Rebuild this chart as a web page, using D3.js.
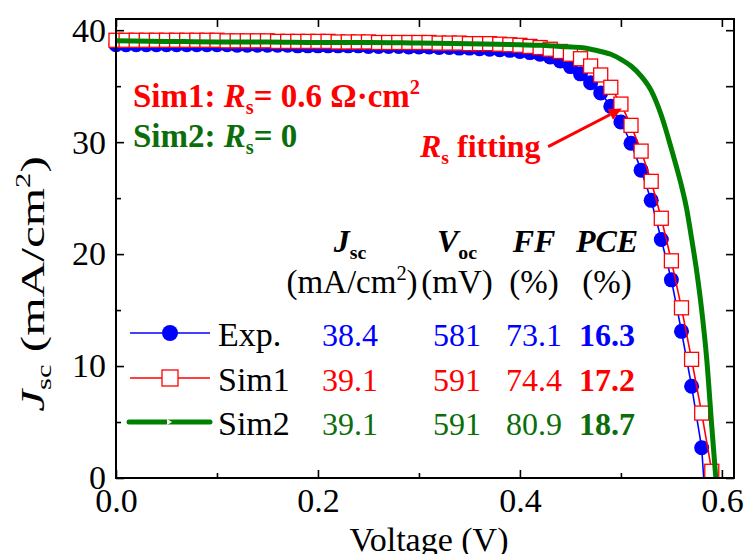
<!DOCTYPE html>
<html lang="en">
<head>
<meta charset="utf-8">
<title>J-V curves</title>
<script src="https://cdn.jsdelivr.net/npm/d3@7/dist/d3.min.js"></script>
<style>
  body { margin: 0; background: #fff; }
  svg text { font-family: "Liberation Serif", "Times New Roman", serif; }
  .axis path { display: none; }
  .axis line { stroke: #000; stroke-width: 1.6; }
  .axis text { font-size: 34px; fill: #000; }
</style>
</head>
<body>
<script>
// measured J-V points (V in volts, J in mA/cm2)
var expV = [0.00,0.01,0.02,0.03,0.04,0.05,0.06,0.07,0.08,0.09,
            0.10,0.11,0.12,0.13,0.14,0.15,0.16,0.17,0.18,0.19,
            0.20,0.21,0.22,0.23,0.24,0.25,0.26,0.27,0.28,0.29,
            0.30,0.31,0.32,0.33,0.34,0.35,0.36,0.37,0.38,0.39,
            0.40,0.41,0.42,0.43,0.44,0.45,0.46,0.47,0.48,0.49,
            0.50,0.51,0.52,0.53,0.54,0.55,0.56,0.57,0.58];
var expJ = [38.7,38.7,38.7,38.7,38.7,38.7,38.7,38.7,38.7,38.7,
            38.7,38.7,38.65,38.65,38.65,38.65,38.65,38.65,38.6,38.6,
            38.6,38.6,38.6,38.6,38.6,38.55,38.55,38.55,38.55,38.5,
            38.5,38.5,38.45,38.45,38.4,38.4,38.35,38.3,38.25,38.2,
            38.1,38.0,37.85,37.6,37.25,36.75,36.1,35.3,34.4,33.2,
            31.8,29.9,27.5,24.8,21.3,17.7,13.1,8.2,2.7];
var expVoc = 0.582;

var sim1V = [0.00,0.01,0.02,0.03,0.04,0.05,0.06,0.07,0.08,0.09,
             0.10,0.11,0.12,0.13,0.14,0.15,0.16,0.17,0.18,0.19,
             0.20,0.21,0.22,0.23,0.24,0.25,0.26,0.27,0.28,0.29,
             0.30,0.31,0.32,0.33,0.34,0.35,0.36,0.37,0.38,0.39,
             0.40,0.41,0.42,0.43,0.44,0.45,0.46,0.47,0.48,0.49,
             0.50,0.51,0.52,0.53,0.54,0.55,0.56,0.57,0.58,0.59];
var sim1J = [39.1,39.1,39.1,39.1,39.1,39.1,39.1,39.1,39.1,39.1,
             39.1,39.05,39.05,39.05,39.05,39.05,39.0,39.0,39.0,39.0,
             39.0,39.0,38.95,38.95,38.95,38.95,38.9,38.9,38.9,38.9,
             38.9,38.9,38.85,38.85,38.85,38.8,38.8,38.8,38.75,38.7,
             38.65,38.55,38.45,38.3,38.1,37.85,37.45,36.8,36.0,34.9,
             33.4,31.5,29.2,26.5,23.2,19.4,15.2,10.6,5.8,0.6];
var sim1Voc = 0.5915;

var sim2V = [0.00,0.05,0.10,0.15,0.20,0.25,0.30,0.35,0.40,0.42,0.44,0.46,0.47,0.48,0.49,
             0.50,0.51,0.52,0.53,0.54,0.55,0.555,0.56,0.565,0.57,0.575,0.58,0.585,0.59,0.594];
var sim2J = [39.05,39.0,38.95,38.95,38.9,38.9,38.85,38.8,38.7,38.65,38.55,38.45,38.3,38.1,37.85,
             37.4,36.8,35.9,34.6,32.4,29.4,27.8,26.1,24.1,21.4,18.5,15.0,10.6,4.6,0];

// table
var rowNames = ["Exp.", "Sim1", "Sim2"];
var jscVals = ["38.4", "39.1", "39.1"];
var vocVals = ["581", "591", "591"];
var ffVals = ["73.1", "74.4", "80.9"];
var pceVals = ["16.3", "17.2", "18.7"];

var xMajor = [0.0, 0.2, 0.4, 0.6];
var xMinor = [0.1, 0.3, 0.5];
var yMajor = [0, 10, 20, 30, 40];
var yMinor = [5, 15, 25, 35];

var blue = "#0000ff", red = "#ff0000", green = "#008000", greenText = "#0b6e0b";
var rowColors = [blue, red, greenText];

var width = 748, height = 554;
var mL = 116, mR = 734, mT = 19, mB = 478;

var x = d3.scaleLinear().domain([0, 0.612]).range([mL, mR]);
var y = d3.scaleLinear().domain([0, 41]).range([mB, mT]);

var svg = d3.select("body").append("svg")
  .attr("width", width)
  .attr("height", height);

function richText(sel, px, py, parts, size, fill, weight) {
  var t = sel.append("text")
    .attr("x", px).attr("y", py)
    .style("font-size", size + "px")
    .attr("fill", fill)
    .attr("font-weight", weight || "normal");
  var shift = 0;
  parts.forEach(function(p) {
    var ts = t.append("tspan").text(p.t);
    var target = 0;
    if (p.sub) { ts.style("font-size", (size * 0.62) + "px"); target = size * 0.22; }
    if (p.sup) { ts.style("font-size", (size * 0.62) + "px"); target = -size * 0.4; }
    if (target - shift !== 0) ts.attr("dy", target - shift);
    shift = target;
    if (p.i) ts.style("font-style", "italic");
    if (p.w) ts.attr("font-weight", p.w);
  });
  return t;
}

// axes (ticks pointing inward)
svg.append("g").attr("class", "axis")
  .attr("transform", "translate(0," + mB + ")")
  .call(d3.axisBottom(x).tickValues(xMajor).tickSize(-8).tickPadding(10).tickFormat(d3.format(".1f")));
svg.append("g").attr("class", "axis")
  .attr("transform", "translate(0," + mB + ")")
  .call(d3.axisBottom(x).tickValues(xMinor).tickSize(-5).tickFormat(""));
svg.append("g").attr("class", "axis")
  .attr("transform", "translate(0," + mT + ")")
  .call(d3.axisTop(x).tickValues(xMajor.concat(xMinor)).tickSize(-8).tickFormat(""));
svg.append("g").attr("class", "axis")
  .attr("transform", "translate(" + mL + ",0)")
  .call(d3.axisLeft(y).tickValues(yMajor).tickSize(-8).tickPadding(10));
svg.append("g").attr("class", "axis")
  .attr("transform", "translate(" + mL + ",0)")
  .call(d3.axisLeft(y).tickValues(yMinor).tickSize(-5).tickFormat(""));
svg.append("g").attr("class", "axis")
  .attr("transform", "translate(" + mR + ",0)")
  .call(d3.axisRight(y).tickValues(yMajor.concat(yMinor)).tickSize(-8).tickFormat(""));

// curves
var expPts = expV.map(function(v, i) { return [v, expJ[i]]; });
var sim1Pts = sim1V.map(function(v, i) { return [v, sim1J[i]]; });
var sim2Pts = sim2V.map(function(v, i) { return [v, sim2J[i]]; });

var line = d3.line().x(function(d) { return x(d[0]); }).y(function(d) { return y(d[1]); });

svg.append("path")
  .attr("d", line(expPts.concat([[expVoc, 0]])))
  .attr("fill", "none").attr("stroke", blue).attr("stroke-width", 1.6);
svg.selectAll(".expPt").data(expPts).enter().append("circle")
  .attr("class", "expPt")
  .attr("cx", function(d) { return x(d[0]); })
  .attr("cy", function(d) { return y(d[1]); })
  .attr("r", 7.5)
  .attr("fill", blue);

svg.append("path")
  .attr("d", line(sim1Pts.concat([[sim1Voc, 0]])))
  .attr("fill", "none").attr("stroke", red).attr("stroke-width", 1.6);
svg.selectAll(".simPt").data(sim1Pts).enter().append("rect")
  .attr("class", "simPt")
  .attr("x", function(d) { return x(d[0]) - 7; })
  .attr("y", function(d) { return y(d[1]) - 7; })
  .attr("width", 14).attr("height", 14)
  .attr("fill", "#fff").attr("stroke", red).attr("stroke-width", 1.3);

svg.append("path")
  .attr("d", line.curve(d3.curveMonotoneX)(sim2Pts))
  .attr("fill", "none").attr("stroke", green).attr("stroke-width", 5);

// frame
svg.append("rect")
  .attr("x", mL).attr("y", mT)
  .attr("width", mR - mL).attr("height", mB - mT)
  .attr("fill", "none").attr("stroke", "#000").attr("stroke-width", 2);

// axis titles
svg.append("text")
  .attr("x", (mL + mR) / 2 + 4).attr("y", 551)
  .attr("text-anchor", "middle")
  .style("font-size", "34px")
  .text("Voltage (V)");

var yl = svg.append("g").attr("transform", "translate(44,284) rotate(-90) scale(1.45,1)");
richText(yl, 0, 0, [{t: "J", i: true}, {t: "sc", sub: true}, {t: " (mA/cm"}, {t: "2", sup: true}, {t: ")"}], 34, "#000")
  .attr("text-anchor", "middle");

// annotations
richText(svg, 133, 107, [{t: "Sim1: "}, {t: "R", i: true}, {t: "s", sub: true}, {t: "= 0.6 \u03A9\u00B7cm"}, {t: "2", sup: true}], 33, red, "bold");
richText(svg, 133, 147, [{t: "Sim2: "}, {t: "R", i: true}, {t: "s", sub: true}, {t: "= 0"}], 33, greenText, "bold");
richText(svg, 420, 157, [{t: "R", i: true}, {t: "s", sub: true}, {t: " fitting"}], 32, red, "bold");

var tail = [x(0.428), y(29.6)], tip = [x(0.501), y(33.0)];
var ang = Math.atan2(tip[1] - tail[1], tip[0] - tail[0]);
var back = [tip[0] - 13 * Math.cos(ang), tip[1] - 13 * Math.sin(ang)];
svg.append("line")
  .attr("x1", tail[0]).attr("y1", tail[1])
  .attr("x2", back[0]).attr("y2", back[1])
  .attr("stroke", red).attr("stroke-width", 3);
svg.append("path")
  .attr("d", "M" + tip[0] + "," + tip[1] +
    "L" + (back[0] + 6 * Math.sin(ang)) + "," + (back[1] - 6 * Math.cos(ang)) +
    "L" + (back[0] - 6 * Math.sin(ang)) + "," + (back[1] + 6 * Math.cos(ang)) + "Z")
  .attr("fill", red);

// table headers
var colX = [350, 457, 534, 607];
var hdr = svg.append("g");
richText(hdr, colX[0], 252, [{t: "J", i: true}, {t: "sc", sub: true}], 32, "#000", "bold").attr("text-anchor", "middle");
richText(hdr, colX[1], 252, [{t: "V", i: true}, {t: "oc", sub: true}], 32, "#000", "bold").attr("text-anchor", "middle");
richText(hdr, colX[2], 252, [{t: "FF", i: true}], 32, "#000", "bold").attr("text-anchor", "middle");
richText(hdr, colX[3], 252, [{t: "PCE", i: true}], 32, "#000", "bold").attr("text-anchor", "middle");
richText(hdr, 352, 293, [{t: "(mA/cm"}, {t: "2", sup: true}, {t: ")"}], 33, "#000").attr("text-anchor", "middle");
richText(hdr, colX[1], 293, [{t: "(mV)"}], 33, "#000").attr("text-anchor", "middle");
richText(hdr, colX[2], 293, [{t: "(%)"}], 33, "#000").attr("text-anchor", "middle");
richText(hdr, colX[3], 293, [{t: "(%)"}], 33, "#000").attr("text-anchor", "middle");

// legend + table rows
var rowY = [346, 391, 435];
var rows = svg.selectAll(".row").data(rowNames).enter().append("g").attr("class", "row");

rows.each(function(name, i) {
  var g = d3.select(this);
  var ly = rowY[i] - 13;
  if (i === 0) {
    g.append("line").attr("x1", 130).attr("x2", 210).attr("y1", ly).attr("y2", ly).attr("stroke", blue).attr("stroke-width", 1.6);
    g.append("circle").attr("cx", 170).attr("cy", ly).attr("r", 8).attr("fill", blue);
  } else if (i === 1) {
    g.append("line").attr("x1", 130).attr("x2", 210).attr("y1", ly).attr("y2", ly).attr("stroke", red).attr("stroke-width", 1.6);
    g.append("rect").attr("x", 162).attr("y", ly - 8).attr("width", 16).attr("height", 16)
      .attr("fill", "#fff").attr("stroke", red).attr("stroke-width", 1.3);
  } else {
    g.append("line").attr("x1", 129).attr("x2", 210).attr("y1", ly).attr("y2", ly)
      .attr("stroke", green).attr("stroke-width", 5).attr("stroke-linecap", "round");
    g.append("path").attr("d", "M167," + (ly - 3) + "L172," + ly + "L167," + (ly + 3) + "Z").attr("fill", "#fff");
  }
  g.append("text").attr("x", 218).attr("y", rowY[i]).style("font-size", "34px").text(name);
  var c = rowColors[i];
  [jscVals[i], vocVals[i], ffVals[i]].forEach(function(v, k) {
    g.append("text").attr("x", colX[k]).attr("y", rowY[i]).attr("text-anchor", "middle")
      .style("font-size", "32px").attr("fill", c).text(v);
  });
  g.append("text").attr("x", colX[3]).attr("y", rowY[i]).attr("text-anchor", "middle")
    .style("font-size", "32px").attr("font-weight", "bold").attr("fill", c).text(pceVals[i]);
});
</script>
</body>
</html>
